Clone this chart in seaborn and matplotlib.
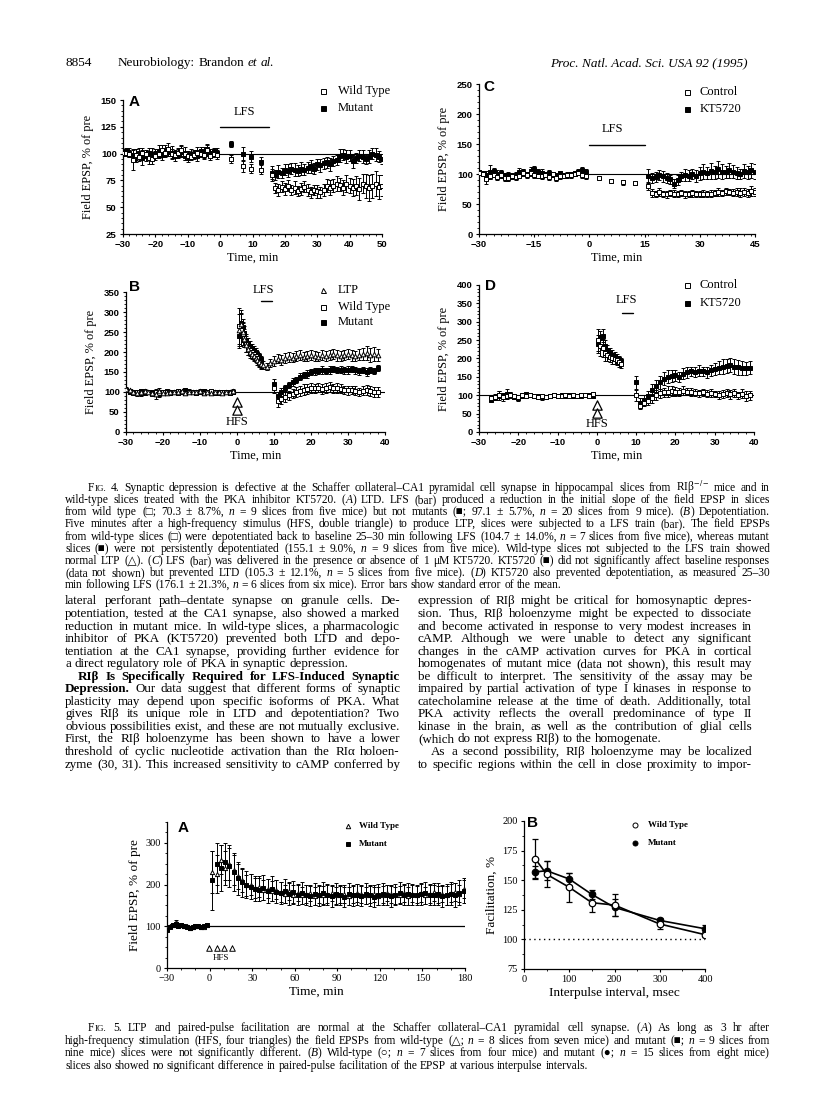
import re
import matplotlib
matplotlib.use("Agg")
import matplotlib.pyplot as plt
import pandas as pd
import seaborn as sns
from matplotlib.lines import Line2D
from matplotlib.ticker import MultipleLocator

W, H = 816, 1105
SERIF = ["Liberation Serif", "DejaVu Serif"]
SANS = ["Liberation Sans", "DejaVu Sans"]
SHAPES = "□■△○●"

# ---------------- data, Fig. 4A (LTD, wild type vs mutant) ----------------
base_t = [-30, -29, -28, -27, -26, -25, -24, -23, -22, -21, -20, -19, -18, -17, -16,
          -15, -14, -13, -12, -11, -10, -9, -8, -7, -6, -5, -4, -3, -2, -1]
A_wt_pre = [101, 101, 100, 94, 99, 97, 101, 100, 96, 95, 98, 100, 103, 101, 104,
            100, 99, 101, 103, 100, 98, 97, 99, 101, 100, 99, 103, 98, 100, 99]
A_wt_pre_err = [2, 3, 3, 9, 5, 4, 4, 3, 6, 5, 4, 3, 5, 4, 6, 4, 3, 4, 5, 6, 4, 3, 4, 5, 3, 4, 5, 4, 3, 4]
A_mut_pre = [101, 102, 101, 99, 98, 101, 96, 98, 101, 100, 100, 102, 99, 103, 102,
             101, 98, 100, 102, 98, 97, 100, 99, 98, 102, 101, 104, 100, 102, 101]
A_mut_pre_err = [3, 3, 4, 5, 6, 4, 7, 5, 4, 5, 4, 6, 5, 5, 4, 6, 5, 4, 5, 4, 5, 4, 3, 5, 4, 5, 5, 4, 3, 4]
A_lfs_t = [3.5, 7, 9.5, 12.5]
A_wt_lfs = [95, 88, 86, 85]
A_wt_lfs_err = [4, 5, 4, 4]
A_mut_lfs = [109, 100, 97, 92]
A_mut_lfs_err = [3, 6, 5, 5]
A_post_t = [16, 17, 18, 19, 20, 21, 22, 23, 24, 25, 26, 27, 28, 29, 30, 31, 32, 33,
            34, 35, 36, 37, 38, 39, 40, 41, 42, 43, 44, 45, 46, 47, 48, 49, 50]
A_wt_post = [80, 68, 66, 69, 67, 70, 66, 68, 65, 67, 69, 66, 64, 66, 65, 64, 66, 70,
             68, 70, 72, 71, 68, 72, 70, 68, 70, 67, 72, 70, 68, 70, 72, 69, 70]
A_wt_post_err = [6, 5, 6, 5, 6, 5, 5, 6, 5, 6, 5, 6, 5, 5, 6, 5, 6, 6, 7, 6, 7, 6, 7, 8,
                 7, 8, 9, 10, 9, 11, 12, 11, 12, 11, 10]
A_mut_post = [82, 80, 83, 82, 85, 84, 86, 85, 84, 86, 85, 87, 88, 86, 90, 89, 91, 92,
              90, 93, 94, 98, 99, 97, 98, 93, 96, 98, 97, 95, 97, 100, 99, 97, 95]
A_mut_post_err = [6, 5, 6, 5, 5, 6, 5, 6, 5, 6, 5, 5, 6, 5, 5, 6, 5, 5, 6, 5, 5, 6, 5, 6,
                  5, 6, 5, 5, 6, 5, 6, 5, 6, 5, 5]

# ---------------- Fig. 4C (LTD, control vs KT5720) ----------------
C_ctrl_pre = [101, 100, 92, 96, 99, 95, 98, 94, 93, 96, 95, 97, 102, 99, 101,
              98, 97, 96, 99, 95, 100, 93, 96, 97, 99, 98, 100, 102, 99, 96]
C_ctrl_pre_err = [3, 3, 8, 5, 4, 5, 4, 5, 4, 4, 5, 4, 6, 5, 4, 5, 4, 5, 4, 5, 4, 5, 4, 4, 3, 4, 3, 4, 5, 4]
C_kt_pre = [103, 101, 99, 103, 105, 100, 102, 98, 99, 97, 99, 104, 103, 100, 105,
            108, 104, 102, 100, 101, 99, 97, 101, 98, 99, 100, 101, 103, 107, 104]
C_kt_pre_err = [3, 4, 6, 12, 5, 6, 5, 4, 5, 4, 5, 6, 5, 4, 7, 6, 5, 6, 4, 5, 4, 5, 4, 4, 5, 4, 4, 5, 5, 4]
C_lfs_t = [2.5, 6, 9, 12.5]
C_ctrl_lfs = [94, 88, 86, 85]
C_ctrl_lfs_err = [3, 3, 4, 4]
C_post_t = [16, 17, 18, 19, 20, 21, 22, 23, 24, 25, 26, 27, 28, 29, 30, 31, 32, 33,
            34, 35, 36, 37, 38, 39, 40, 41, 42, 43, 44, 45]
C_ctrl_post = [80, 68, 66, 70, 67, 66, 68, 67, 66, 68, 66, 67, 68, 67, 66, 67, 66, 67,
               68, 70, 69, 71, 70, 69, 70, 69, 70, 68, 72, 70]
C_ctrl_post_err = [6, 7, 5, 6, 5, 6, 5, 6, 5, 5, 6, 5, 6, 5, 5, 6, 5, 6, 5, 6, 5, 6, 5, 6,
                   6, 7, 6, 7, 8, 7]
C_kt_post = [97, 93, 95, 98, 96, 93, 91, 84, 90, 96, 99, 97, 100, 97, 101, 104, 102, 105,
             103, 108, 104, 103, 106, 104, 102, 100, 105, 103, 106, 104]
C_kt_post_err = [12, 8, 9, 8, 9, 8, 7, 8, 9, 8, 10, 9, 8, 10, 11, 12, 10, 13, 11, 14, 12,
                 10, 13, 11, 10, 9, 12, 11, 13, 12]

# ---------------- Fig. 4B (depotentiation, LTP / wild type / mutant) ----------------
B_ltp_pre = [108, 104, 100, 97, 99, 102, 100, 98, 95, 103, 98, 97, 101, 99, 100,
             102, 98, 101, 100, 99, 103, 98, 100, 97, 99, 101, 98, 100, 99, 102]
B_ltp_pre_err = [5, 4, 5, 6, 4, 5, 4, 5, 12, 6, 5, 4, 5, 4, 5, 4, 5, 6, 4, 5, 4, 5, 4, 5, 4, 5, 4, 5, 6, 5]
B_wt_pre = [106, 102, 98, 100, 97, 101, 99, 96, 100, 98, 101, 99, 97, 100, 102,
            99, 98, 100, 99, 101, 100, 97, 99, 102, 100, 98, 101, 99, 98, 100]
B_wt_pre_err = [4, 5, 4, 5, 6, 4, 5, 4, 5, 4, 5, 4, 5, 4, 6, 5, 4, 5, 4, 5, 4, 5, 4, 5, 4, 5, 4, 5, 5, 4]
B_mut_pre = [104, 100, 101, 99, 102, 98, 100, 101, 97, 96, 100, 102, 99, 101, 98,
             100, 104, 99, 101, 98, 99, 102, 100, 101, 98, 99, 100, 101, 97, 99]
B_mut_pre_err = [5, 4, 5, 4, 5, 4, 6, 5, 4, 8, 5, 4, 5, 4, 5, 4, 6, 5, 4, 5, 4, 5, 4, 5, 4, 5, 4, 5, 5, 4]
B_hfs_t = [0.5, 1, 1.5, 2, 2.5, 3, 3.5, 4, 4.5, 5, 5.5, 6, 6.5]
B_ltp_hfs = [255, 270, 250, 232, 218, 208, 200, 196, 190, 186, 180, 175, 170]
B_ltp_hfs_err = [40, 35, 25, 20, 18, 15, 15, 14, 12, 12, 12, 10, 10]
B_wt_hfs = [265, 255, 245, 235, 220, 210, 205, 200, 195, 190, 185, 175, 168]
B_wt_hfs_err = [45, 40, 28, 22, 20, 18, 16, 15, 14, 13, 12, 12, 10]
B_mut_hfs = [240, 272, 262, 248, 230, 222, 215, 210, 205, 200, 195, 190, 182]
B_mut_hfs_err = [30, 25, 20, 18, 15, 12, 12, 10, 10, 10, 8, 8, 8]
B_ltp_post_t = [7, 8, 9, 10, 11, 12, 13, 14, 15, 16, 17, 18, 19, 20, 21, 22, 23, 24,
                25, 26, 27, 28, 29, 30, 31, 32, 33, 34, 35, 36, 37, 38]
B_ltp_post = [168, 163, 172, 178, 183, 180, 185, 188, 186, 190, 192, 188, 190, 193, 190, 188,
              192, 190, 193, 195, 192, 190, 193, 195, 192, 190, 193, 195, 197, 193, 195, 192]
B_ltp_post_err = [10, 9, 10, 12, 11, 12, 13, 12, 11, 13, 12, 11, 12, 13, 12, 11, 12, 13, 12,
                  13, 14, 12, 13, 12, 14, 13, 14, 16, 18, 17, 18, 15]
B_post_t = [10, 11, 12, 13, 14, 15, 16, 17, 18, 19, 20, 21, 22, 23, 24, 25, 26, 27, 28,
            29, 30, 31, 32, 33, 34, 35, 36, 37, 38]
B_wt_post = [110, 78, 82, 88, 92, 96, 100, 103, 106, 108, 110, 109, 111, 108, 110, 112, 109,
             110, 108, 106, 104, 105, 103, 100, 103, 105, 102, 100, 100]
B_wt_post_err = [12, 15, 12, 12, 11, 12, 13, 12, 13, 12, 13, 12, 11, 12, 13, 12, 11, 12, 11,
                 10, 11, 10, 11, 10, 11, 12, 13, 12, 12]
B_mut_post = [120, 90, 100, 110, 118, 125, 130, 138, 142, 145, 150, 152, 153, 155, 152, 155,
              157, 155, 156, 154, 155, 157, 154, 152, 155, 150, 155, 153, 160]
B_mut_post_err = [12, 10, 9, 8, 8, 9, 8, 9, 8, 9, 8, 9, 8, 9, 8, 9, 8, 8, 9, 8, 9, 8, 8, 9,
                  8, 9, 8, 8, 7]

# ---------------- Fig. 4D (depotentiation, control vs KT5720) ----------------
D_pre_t = [-27, -26, -25, -24, -23, -22, -21, -20, -19, -18, -17, -16, -15, -14,
           -13, -12, -11, -10, -9, -8, -7, -6, -5, -4, -3, -2, -1]
D_ctrl_pre = [92, 96, 100, 95, 98, 102, 97, 94, 100, 99, 101, 97, 95, 99, 96, 98, 100,
              97, 99, 101, 98, 100, 99, 101, 100, 98, 103]
D_ctrl_pre_err = [6, 8, 12, 10, 9, 8, 7, 8, 6, 5, 6, 5, 6, 5, 5, 4, 5, 4, 5, 4, 4, 5, 4, 4, 5, 4, 5]
D_kt_pre = [88, 93, 102, 98, 104, 100, 96, 92, 99, 103, 100, 98, 97, 94, 96, 99, 100,
            98, 101, 99, 100, 97, 99, 98, 101, 100, 98]
D_kt_pre_err = [5, 7, 10, 9, 12, 8, 7, 9, 6, 6, 5, 6, 5, 6, 5, 5, 4, 5, 4, 5, 4, 4, 5, 4, 5, 4, 5]
D_hfs_t = [0.3, 0.9, 1.5, 2.1, 2.7, 3.3, 3.9, 4.5, 5.1, 5.7, 6.2]
D_ctrl_hfs = [250, 235, 228, 215, 210, 205, 200, 198, 195, 190, 185]
D_ctrl_hfs_err = [30, 28, 25, 22, 18, 15, 15, 14, 12, 12, 10]
D_kt_hfs = [240, 255, 262, 235, 222, 215, 210, 205, 200, 198, 192]
D_kt_hfs_err = [25, 20, 18, 16, 15, 14, 12, 12, 12, 10, 10]
D_post_t = [10, 11, 12, 13, 14, 15, 16, 17, 18, 19, 20, 21, 22, 23, 24, 25, 26, 27, 28,
            29, 30, 31, 32, 33, 34, 35, 36, 37, 38, 39]
D_ctrl_post = [100, 72, 80, 85, 92, 100, 105, 108, 110, 112, 110, 108, 112, 110, 108, 107,
               105, 108, 104, 106, 103, 101, 104, 106, 103, 105, 100, 104, 98, 100]
D_ctrl_post_err = [15, 10, 10, 11, 12, 13, 12, 13, 14, 13, 12, 11, 12, 10, 11, 10, 9, 10,
                   9, 10, 9, 10, 11, 10, 12, 11, 10, 12, 13, 12]
D_kt_post = [135, 80, 88, 98, 115, 125, 135, 145, 150, 152, 155, 150, 158, 162, 165, 163,
             167, 165, 162, 168, 172, 175, 178, 180, 182, 178, 176, 175, 173, 175]
D_kt_post_err = [18, 12, 12, 14, 15, 16, 18, 17, 18, 16, 15, 14, 15, 14, 12, 13, 14, 13,
                 14, 15, 16, 18, 20, 19, 20, 21, 20, 19, 18, 17]

# ---------------- Fig. 5A (3 h LTP) ----------------
E_pre_t = [-30, -28, -26, -24, -22, -20, -18, -16, -14, -12, -10, -8, -6, -4, -2]
E_wt_pre = [95, 100, 104, 110, 102, 104, 101, 100, 97, 99, 100, 101, 98, 99, 104]
E_mut_pre = [92, 98, 103, 106, 100, 102, 100, 99, 96, 98, 101, 100, 99, 100, 102]
E_pre_err = [4, 3, 4, 5, 3, 4, 3, 4, 3, 3, 4, 3, 3, 4, 3]
E_post_t = [2, 5, 8, 11, 14, 17, 20, 23, 26, 29, 32, 35, 38, 41, 44, 47, 50, 53, 56, 59,
            62, 65, 68, 71, 74, 77, 80, 83, 86, 89, 92, 95, 98, 101, 104, 107, 110, 113,
            116, 119, 122, 125, 128, 131, 134, 137, 140, 143, 146, 149, 152, 155, 158,
            161, 164, 167, 170, 173, 176, 179]
E_mut_post = [210, 250, 240, 255, 245, 230, 215, 205, 200, 195, 190, 188, 192, 185, 190,
              183, 180, 185, 178, 182, 176, 180, 175, 172, 178, 174, 180, 176, 172, 178,
              175, 170, 178, 174, 176, 172, 178, 174, 170, 176, 178, 174, 172, 176, 180,
              175, 178, 176, 174, 178, 180, 176, 174, 178, 172, 176, 178, 175, 180, 185]
E_mut_post_err = [70, 50, 55, 45, 50, 45, 40, 35, 32, 30, 30, 28, 30, 28, 30, 28, 27, 28,
                  26, 27, 25, 26, 25, 24, 26, 25, 27, 26, 25, 26, 25, 24, 26, 25, 26, 24,
                  25, 26, 24, 25, 26, 24, 25, 26, 27, 25, 26, 25, 24, 26, 27, 25, 24, 26,
                  25, 26, 27, 28, 30, 30]
E_wt_post = [230, 225, 260, 240, 250, 235, 220, 210, 198, 200, 192, 195, 186, 190, 184,
             188, 182, 178, 184, 176, 180, 174, 178, 180, 172, 176, 174, 178, 180, 174,
             176, 178, 172, 176, 180, 178, 174, 176, 178, 172, 176, 180, 178, 174, 176,
             180, 172, 178, 176, 180, 174, 178, 182, 176, 178, 174, 180, 182, 178, 190]
E_wt_post_err = [50, 45, 35, 40, 38, 35, 30, 28, 26, 25, 24, 25, 24, 23, 24, 22, 23, 22,
                 21, 22, 20, 21, 22, 20, 21, 20, 22, 21, 20, 21, 20, 22, 21, 20, 21, 22,
                 20, 21, 20, 22, 21, 20, 22, 21, 20, 22, 21, 20, 21, 22, 20, 21, 22, 21,
                 20, 22, 21, 22, 20, 22]
E_hfs_t = [-0.5, 5, 10.5, 16]

# ---------------- Fig. 5B (paired-pulse facilitation) ----------------
F_interval = [25, 50, 100, 150, 200, 300, 400]
F_wt = [168, 155, 144, 131, 129, 113, 104]
F_wt_err = [17, 11, 12, 8, 9, 4, 2]
F_mut = [157, 158, 151, 138, 127, 116, 109]
F_mut_err = [5, 8, 5, 4, 7, 2, 3]

# tick labels
A_xticks = [-30, -20, -10, 0, 10, 20, 30, 40, 50]
A_yticks = [25, 50, 75, 100, 125, 150]
C_xticks = [-30, -15, 0, 15, 30, 45]
C_yticks = [0, 50, 100, 150, 200, 250]
B_xticks = [-30, -20, -10, 0, 10, 20, 30, 40]
B_yticks = [0, 50, 100, 150, 200, 250, 300, 350]
D_yticks = [0, 50, 100, 150, 200, 250, 300, 350, 400]
E_xticks = [-30, 0, 30, 60, 90, 120, 150, 180]
E_yticks = [0, 100, 200, 300]
F_xticks = [0, 100, 200, 300, 400]
F_yticks = [75, 100, 125, 150, 175, 200]

# ---------------- page text ----------------
fig4_caption = [
    "F~IG.~ 4. Synaptic depression is defective at the Schaffer collateral–CA1 pyramidal cell synapse in hippocampal slices from RIβ$^{-/-}$ mice and in",
    "wild-type slices treated with the PKA inhibitor KT5720. (_A_) LTD. LFS (bar) produced a reduction in the initial slope of the field EPSP in slices",
    "from wild type (□; 70.3 ± 8.7%, _n_ = 9 slices from five mice) but not mutants (■; 97.1 ± 5.7%, _n_ = 20 slices from 9 mice). (_B_) Depotentiation.",
    "Five minutes after a high-frequency stimulus (HFS, double triangle) to produce LTP, slices were subjected to a LFS train (bar). The field EPSPs",
    "from wild-type slices (□) were depotentiated back to baseline 25–30 min following LFS (104.7 ± 14.0%, _n_ = 7 slices from five mice), whereas mutant",
    "slices (■) were not persistently depotentiated (155.1 ± 9.0%, _n_ = 9 slices from five mice). Wild-type slices not subjected to the LFS train showed",
    "normal LTP (△). (_C_) LFS (bar) was delivered in the presence or absence of 1 μM KT5720. KT5720 (■) did not significantly affect baseline responses",
    "(data not shown) but prevented LTD (105.3 ± 12.1%, _n_ = 5 slices from five mice). (_D_) KT5720 also prevented depotentiation, as measured 25–30",
    "min following LFS (176.1 ± 21.3%, _n_ = 6 slices from six mice). Error bars show standard error of the mean.",
]
left_column = [
    "lateral perforant path–dentate synapse on granule cells. De-",
    "potentiation, tested at the CA1 synapse, also showed a marked",
    "reduction in mutant mice. In wild-type slices, a pharmacologic",
    "inhibitor of PKA (KT5720) prevented both LTD and depo-",
    "tentiation at the CA1 synapse, providing further evidence for",
    "a direct regulatory role of PKA in synaptic depression.",
    "*RIβ Is Specifically Required for LFS-Induced Synaptic*",
    "*Depression.* Our data suggest that different forms of synaptic",
    "plasticity may depend upon specific isoforms of PKA. What",
    "gives RIβ its unique role in LTD and depotentiation? Two",
    "obvious possibilities exist, and these are not mutually exclusive.",
    "First, the RIβ holoenzyme has been shown to have a lower",
    "threshold of cyclic nucleotide activation than the RIα holoen-",
    "zyme (30, 31). This increased sensitivity to cAMP conferred by",
]
right_column = [
    "expression of RIβ might be critical for homosynaptic depres-",
    "sion. Thus, RIβ holoenzyme might be expected to dissociate",
    "and become activated in response to very modest increases in",
    "cAMP. Although we were unable to detect any significant",
    "changes in the cAMP activation curves for PKA in cortical",
    "homogenates of mutant mice (data not shown), this result may",
    "be difficult to interpret. The sensitivity of the assay may be",
    "impaired by partial activation of type I kinases in response to",
    "catecholamine release at the time of death. Additionally, total",
    "PKA activity reflects the overall predominance of type II",
    "kinase in the brain, as well as the contribution of glial cells",
    "(which do not express RIβ) to the homogenate.",
    "As a second possibility, RIβ holoenzyme may be localized",
    "to specific regions within the cell in close proximity to impor-",
]
fig5_caption = [
    "F~IG.~ 5. LTP and paired-pulse facilitation are normal at the Schaffer collateral–CA1 pyramidal cell synapse. (_A_) As long as 3 hr after",
    "high-frequency stimulation (HFS, four triangles) the field EPSPs from wild-type (△; _n_ = 8 slices from seven mice) and mutant (■; _n_ = 9 slices from",
    "nine mice) slices were not significantly different. (_B_) Wild-type (○; _n_ = 7 slices from four mice) and mutant (●; _n_ = 15 slices from eight mice)",
    "slices also showed no significant difference in paired-pulse facilitation of the EPSP at various interpulse intervals.",
]

sns.set_style("ticks")
plt.rcParams["font.family"] = SERIF
plt.rcParams.update({
    "mathtext.fontset": "stix",
    "axes.edgecolor": "black", "axes.linewidth": 0.9,
    "xtick.color": "black", "ytick.color": "black", "text.color": "black",
    "axes.labelcolor": "black",
    "xtick.major.size": 2.5, "ytick.major.size": 2.5,
    "xtick.minor.size": 1.5, "ytick.minor.size": 1.5,
    "xtick.major.width": 0.8, "ytick.major.width": 0.8,
    "xtick.minor.width": 0.6, "ytick.minor.width": 0.6,
    "xtick.major.pad": 2, "ytick.major.pad": 2,
})

fig = plt.figure(figsize=(W / 100, H / 100), dpi=100)
renderer = fig.canvas.get_renderer()


def box(l, t, r, b):
    return fig.add_axes([l / W, 1 - b / H, (r - l) / W, (b - t) / H])


def series(ax, t, y, e, marker, filled, s=11, lw=0.7):
    ax.errorbar(t, y, yerr=e, fmt="none", ecolor="black", elinewidth=0.7,
                capsize=1.4, capthick=0.7, zorder=2)
    df = pd.DataFrame({"t": t, "y": y})
    sns.scatterplot(data=df, x="t", y="y", ax=ax, marker=marker, s=s,
                    color="black" if filled else "white", edgecolor="black",
                    linewidth=lw, zorder=3, legend=False)


def style_axes(ax, xlim, xticks, xminor, ylim, yticks, yminor, tick_font, tick_size,
               tick_weight, xlabel, ylabel, label_size, xpad=2, ypad=3):
    ax.set_xlim(*xlim)
    ax.set_ylim(*ylim)
    ax.set_xticks(xticks)
    ax.set_xticklabels([str(v).replace("-", "−") for v in xticks])
    ax.set_yticks(yticks)
    ax.set_yticklabels([str(v) for v in yticks])
    ax.xaxis.set_minor_locator(MultipleLocator(xminor))
    ax.yaxis.set_minor_locator(MultipleLocator(yminor))
    for lab in ax.get_xticklabels() + ax.get_yticklabels():
        lab.set_fontfamily(tick_font)
        lab.set_fontweight(tick_weight)
        lab.set_fontsize(tick_size)
    ax.set_xlabel(xlabel, fontsize=label_size, labelpad=xpad)
    ax.set_ylabel(ylabel, fontsize=label_size, labelpad=ypad)
    sns.despine(ax=ax)


def fig4(ax, xlim, xticks, ylim, yticks, yminor):
    style_axes(ax, xlim, xticks, 2, ylim, yticks, yminor, SANS, 6.8, "bold",
               "Time, min", "Field EPSP, % of pre", 8.8, ypad=5)


def legend_item(x, y, marker, filled, label, tx, size, ms=3.6, weight="normal"):
    fig.add_artist(Line2D([x / W], [1 - y / H], marker=marker, ms=ms, ls="none",
                          mfc="black" if filled else "white", mec="black", mew=0.7,
                          transform=fig.transFigure))
    fig.text(tx / W, 1 - y / H, label, fontsize=size, va="center", ha="left",
             family="Liberation Serif", weight=weight)


def letter(x, y, s, size=11):
    fig.text(x / W, 1 - y / H, s, fontsize=size, family=SANS, weight="bold",
             ha="center", va="center")


# ---------------- Fig. 4A ----------------
ax = box(123, 100, 382, 234)
ax.axhline(100, color="black", lw=0.8, zorder=1)
series(ax, base_t + A_lfs_t + A_post_t, A_mut_pre + A_mut_lfs + A_mut_post,
       A_mut_pre_err + A_mut_lfs_err + A_mut_post_err, "s", True)
series(ax, base_t + A_lfs_t + A_post_t, A_wt_pre + A_wt_lfs + A_wt_post,
       A_wt_pre_err + A_wt_lfs_err + A_wt_post_err, "s", False)
ax.plot([0, 15], [125, 125], color="black", lw=1.0, clip_on=False)
ax.text(7.6, 139, "LFS", ha="center", va="center", fontsize=9)
fig4(ax, (-30, 50), A_xticks, (25, 150), A_yticks, 5)
letter(134, 102, "A")
legend_item(323, 91, "s", False, "Wild Type", 338, 9)
legend_item(323, 108, "s", True, "Mutant", 338, 9)

# ---------------- Fig. 4C ----------------
ax = box(479, 84, 755, 234)
ax.axhline(100, color="black", lw=0.8, zorder=1)
series(ax, base_t + C_post_t, C_kt_pre + C_kt_post, C_kt_pre_err + C_kt_post_err, "s", True)
series(ax, base_t + C_lfs_t + C_post_t, C_ctrl_pre + C_ctrl_lfs + C_ctrl_post,
       C_ctrl_pre_err + C_ctrl_lfs_err + C_ctrl_post_err, "s", False)
ax.plot([0, 15], [148, 148], color="black", lw=1.0, clip_on=False)
ax.text(6.3, 175, "LFS", ha="center", va="center", fontsize=9)
fig4(ax, (-30, 45), C_xticks, (0, 250), C_yticks, 10)
letter(489, 87, "C")
legend_item(687, 92, "s", False, "Control", 700, 9)
legend_item(687, 109, "s", True, "KT5720", 700, 9)

# ---------------- Fig. 4B ----------------
ax = box(126, 292, 385, 432)
ax.axhline(100, color="black", lw=0.8, zorder=1)
series(ax, base_t + B_hfs_t + B_post_t, B_mut_pre + B_mut_hfs + B_mut_post,
       B_mut_pre_err + B_mut_hfs_err + B_mut_post_err, "s", True)
series(ax, base_t + B_hfs_t + B_post_t, B_wt_pre + B_wt_hfs + B_wt_post,
       B_wt_pre_err + B_wt_hfs_err + B_wt_post_err, "s", False)
series(ax, base_t + B_hfs_t + B_ltp_post_t, B_ltp_pre + B_ltp_hfs + B_ltp_post,
       B_ltp_pre_err + B_ltp_hfs_err + B_ltp_post_err, "^", False)
ax.plot([6.5, 9.5], [327, 327], color="black", lw=1.0, clip_on=False)
ax.text(7.2, 356, "LFS", ha="center", va="center", fontsize=9, clip_on=False)
ax.scatter([0, 0], [76, 55], marker="^", s=45, facecolor="white", edgecolor="black",
           linewidth=0.9, zorder=4, clip_on=False)
ax.text(0, 26, "HFS", ha="center", va="center", fontsize=9)
fig4(ax, (-30, 40), B_xticks, (0, 350), B_yticks, 10)
letter(135, 287, "B")
legend_item(323, 290, "^", False, "LTP", 338, 9)
legend_item(323, 307, "s", False, "Wild Type", 338, 9)
legend_item(323, 322, "s", True, "Mutant", 338, 9)

# ---------------- Fig. 4D ----------------
ax = box(479, 285, 754, 432)
ax.axhline(100, color="black", lw=0.8, zorder=1)
series(ax, D_pre_t + D_hfs_t + D_post_t, D_kt_pre + D_kt_hfs + D_kt_post,
       D_kt_pre_err + D_kt_hfs_err + D_kt_post_err, "s", True)
series(ax, D_pre_t + D_hfs_t + D_post_t, D_ctrl_pre + D_ctrl_hfs + D_ctrl_post,
       D_ctrl_pre_err + D_ctrl_hfs_err + D_ctrl_post_err, "s", False)
ax.plot([6.4, 9.2], [324, 324], color="black", lw=1.0, clip_on=False)
ax.text(7.4, 360, "LFS", ha="center", va="center", fontsize=9)
ax.scatter([0, 0], [73, 51], marker="^", s=45, facecolor="white", edgecolor="black",
           linewidth=0.9, zorder=4, clip_on=False)
ax.text(0, 21, "HFS", ha="center", va="center", fontsize=9)
fig4(ax, (-30, 40), B_xticks, (0, 400), D_yticks, 10)
letter(490, 286, "D")
legend_item(687, 285, "s", False, "Control", 700, 9)
legend_item(687, 303, "s", True, "KT5720", 700, 9)

# ---------------- Fig. 5A ----------------
ax = box(167, 822, 465, 968)
ax.axhline(100, color="black", lw=0.9, zorder=1)
series(ax, E_pre_t + E_post_t, E_wt_pre + E_wt_post, E_pre_err + E_wt_post_err, "^", False, s=9)
series(ax, E_pre_t + E_post_t, E_mut_pre + E_mut_post, E_pre_err + E_mut_post_err, "s", True, s=9)
ax.scatter(E_hfs_t, [48] * len(E_hfs_t), marker="^", s=16, facecolor="white",
           edgecolor="black", linewidth=0.7, zorder=4)
ax.text(8, 23, "HFS", ha="center", va="center", fontsize=6.5)
style_axes(ax, (-30, 180), E_xticks, 10, (0, 350), E_yticks, 25, SERIF, 7.5, "normal",
           "Time, min", "Field EPSP, % of pre", 9.5)
letter(183, 828, "A")
legend_item(348, 826, "^", False, "Wild Type", 359, 6.5, ms=3.2, weight="bold")
legend_item(348, 844, "s", True, "Mutant", 359, 6.5, ms=3.0, weight="bold")

# ---------------- Fig. 5B ----------------
ax = box(524, 821, 705, 969)
ax.plot([0, 400], [100, 100], ls=(0, (1, 2.5)), color="black", lw=1.0)
dfw = pd.DataFrame({"interval": F_interval, "facilitation": F_wt})
dfm = pd.DataFrame({"interval": F_interval, "facilitation": F_mut})
ax.errorbar(F_interval, F_wt, yerr=F_wt_err, fmt="none", ecolor="black", elinewidth=0.9,
            capsize=2.2, capthick=0.9, zorder=2)
ax.errorbar(F_interval, F_mut, yerr=F_mut_err, fmt="none", ecolor="black", elinewidth=0.9,
            capsize=2.2, capthick=0.9, zorder=2)
sns.lineplot(data=dfw, x="interval", y="facilitation", ax=ax, color="black", lw=1.2, zorder=2)
sns.lineplot(data=dfm, x="interval", y="facilitation", ax=ax, color="black", lw=1.2, zorder=2)
sns.scatterplot(data=dfm, x="interval", y="facilitation", ax=ax, marker="o", s=22,
                color="black", edgecolor="black", linewidth=0.8, zorder=3)
sns.scatterplot(data=dfw, x="interval", y="facilitation", ax=ax, marker="o", s=22,
                color="white", edgecolor="black", linewidth=0.9, zorder=4)
style_axes(ax, (0, 400), F_xticks, 50, (75, 200), F_yticks, 12.5, SERIF, 7.5, "normal",
           "Interpulse interval, msec", "Facilitation, %", 9.5)
letter(533, 823, "B")
legend_item(635, 825, "o", False, "Wild Type", 648, 6.5, ms=3.6, weight="bold")
legend_item(635, 843, "o", True, "Mutant", 648, 6.5, ms=3.6, weight="bold")


# ---------------- justified page text ----------------
def parse(line):
    words, it, bd, sm = [], False, False, False
    for w in line.split(" "):
        segs = []
        for tok in re.split(r"([_*~])", w):
            if tok == "_":
                it = not it
            elif tok == "*":
                bd = not bd
            elif tok == "~":
                sm = not sm
            elif tok:
                segs.append((tok, it, bd, sm))
        words.append(segs)
    return words


def put_line(line, x0, x1, y, size, justify=True):
    words = parse(line)
    y = round(y)

    def build(sz):
        arts, widths = [], []
        for segs in words:
            wa, ww = [], 0
            for s, it, bd, sm in segs:
                fam = SERIF if any(c in SHAPES for c in s) else "Liberation Serif"
                t = fig.text(0, 0, s, fontsize=sz * (0.78 if sm else 1), family=fam,
                             style="italic" if it else "normal",
                             weight="bold" if bd else "normal", va="baseline", ha="left")
                w = t.get_window_extent(renderer).width
                wa.append((t, w))
                ww += w
            arts.append(wa)
            widths.append(ww)
        return arts, widths

    arts, widths = build(size)
    space = size * 100 / 72 * 0.25
    natural = sum(widths) + space * (len(words) - 1)
    if natural > x1 - x0:
        for wa in arts:
            for t, _ in wa:
                t.remove()
        size = size * (x1 - x0) / natural * 0.995
        space = size * 100 / 72 * 0.25
        arts, widths = build(size)
    if justify and len(words) > 1:
        gap = (x1 - x0 - sum(widths)) / (len(words) - 1)
    else:
        gap = space
    x = x0
    for wa, ww in zip(arts, widths):
        for t, w in wa:
            t.set_position((x / W, 1 - y / H))
            x += w
        x += gap


put_line("8854", 65, 100, 66, 9.5, justify=False)
put_line("Neurobiology: Brandon _et al._", 118, 300, 66, 9.5, justify=False)
fig.text(748 / W, 1 - 66 / H, "Proc. Natl. Acad. Sci. USA 92 (1995)", fontsize=9.5,
         family="Liberation Serif", style="italic", ha="right", va="baseline")

for i, line in enumerate(fig4_caption):
    last = i == len(fig4_caption) - 1
    put_line(line, 88 if i == 0 else 65, 770, 491 + 12.15 * i, 8.3, justify=not last)

for i, line in enumerate(left_column):
    x0 = 78 if i == 6 else 65
    put_line(line, x0, 400, 604.5 + 12.54 * i, 9.4, justify=i != 5)

for i, line in enumerate(right_column):
    x0 = 431 if i == 12 else 418
    put_line(line, x0, 752, 604.5 + 12.54 * i, 9.4, justify=i != 11)

for i, line in enumerate(fig5_caption):
    last = i == len(fig5_caption) - 1
    put_line(line, 88 if i == 0 else 65, 770, 1031 + 12.7 * i, 8.3, justify=not last)

fig.savefig("out.png", dpi=100)
